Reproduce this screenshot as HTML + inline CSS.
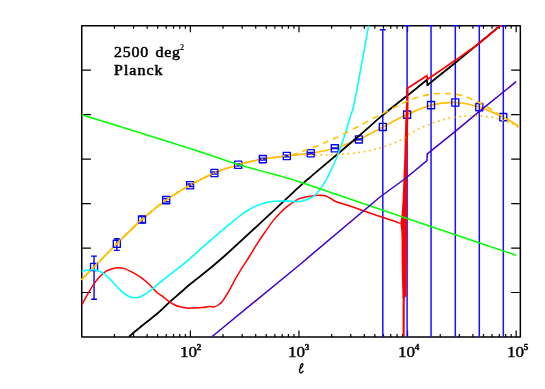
<!DOCTYPE html>
<html><head><meta charset="utf-8"><title>plot</title>
<style>
html,body{margin:0;padding:0;background:#fff;}
body{width:545px;height:389px;position:relative;overflow:hidden;font-family:"Liberation Serif",serif;color:#000;}
.t{position:absolute;white-space:nowrap;line-height:1;filter:grayscale(1);}
.lab{font-size:14.3px;letter-spacing:0px;-webkit-text-stroke:0.35px #000;transform-origin:0 0;transform:scaleX(1.2);}
.lab sup{font-size:7.6px;position:relative;top:-7.0px;left:-0.3px;vertical-align:baseline;font-weight:bold;letter-spacing:0}
.ttl{font-size:14px;letter-spacing:0.9px;-webkit-text-stroke:0.5px #000;transform-origin:0 0;transform:scaleX(1.14);}
.ttl sup{font-size:7.2px;position:relative;top:-6.9px;left:-0.8px;vertical-align:baseline;font-weight:bold;-webkit-text-stroke:0;letter-spacing:0}
</style></head><body>
<svg width="545" height="389" viewBox="0 0 545 389" style="position:absolute;left:0;top:0">
<defs><clipPath id="cp"><rect x="81.0" y="24.9" width="440.1" height="312.85"/></clipPath></defs>
<rect width="545" height="389" fill="#fff"/>
<rect x="81.75" y="25.65" width="438.6" height="311.35" fill="none" stroke="#000" stroke-width="1.5" stroke-linejoin="round"/>
<path d="M114.44,337.0 v-3.1 M114.44,25.65 v3.1 M133.57,337.0 v-3.1 M133.57,25.65 v3.1 M147.13,337.0 v-3.1 M147.13,25.65 v3.1 M157.66,337.0 v-3.1 M157.66,25.65 v3.1 M166.26,337.0 v-3.1 M166.26,25.65 v3.1 M173.53,337.0 v-3.1 M173.53,25.65 v3.1 M179.83,337.0 v-3.1 M179.83,25.65 v3.1 M185.38,337.0 v-3.1 M185.38,25.65 v3.1 M190.35,337.0 v-6.6 M190.35,25.65 v6.6 M223.04,337.0 v-3.1 M223.04,25.65 v3.1 M242.17,337.0 v-3.1 M242.17,25.65 v3.1 M255.73,337.0 v-3.1 M255.73,25.65 v3.1 M266.26,337.0 v-3.1 M266.26,25.65 v3.1 M274.86,337.0 v-3.1 M274.86,25.65 v3.1 M282.13,337.0 v-3.1 M282.13,25.65 v3.1 M288.43,337.0 v-3.1 M288.43,25.65 v3.1 M293.98,337.0 v-3.1 M293.98,25.65 v3.1 M298.95,337.0 v-6.6 M298.95,25.65 v6.6 M331.64,337.0 v-3.1 M331.64,25.65 v3.1 M350.77,337.0 v-3.1 M350.77,25.65 v3.1 M364.33,337.0 v-3.1 M364.33,25.65 v3.1 M374.86,337.0 v-3.1 M374.86,25.65 v3.1 M383.46,337.0 v-3.1 M383.46,25.65 v3.1 M390.73,337.0 v-3.1 M390.73,25.65 v3.1 M397.03,337.0 v-3.1 M397.03,25.65 v3.1 M402.58,337.0 v-3.1 M402.58,25.65 v3.1 M407.55,337.0 v-6.6 M407.55,25.65 v6.6 M440.24,337.0 v-3.1 M440.24,25.65 v3.1 M459.37,337.0 v-3.1 M459.37,25.65 v3.1 M472.93,337.0 v-3.1 M472.93,25.65 v3.1 M483.46,337.0 v-3.1 M483.46,25.65 v3.1 M492.06,337.0 v-3.1 M492.06,25.65 v3.1 M499.33,337.0 v-3.1 M499.33,25.65 v3.1 M505.63,337.0 v-3.1 M505.63,25.65 v3.1 M511.18,337.0 v-3.1 M511.18,25.65 v3.1 M516.15,337.0 v-6.6 M516.15,25.65 v6.6 M81.75,70.13 h9.2 M520.35,70.13 h-9.2 M81.75,114.61 h9.2 M520.35,114.61 h-9.2 M81.75,159.09 h9.2 M520.35,159.09 h-9.2 M81.75,203.56 h9.2 M520.35,203.56 h-9.2 M81.75,248.04 h9.2 M520.35,248.04 h-9.2 M81.75,292.52 h9.2 M520.35,292.52 h-9.2" stroke="#000" stroke-width="1.2" fill="none"/>
<g clip-path="url(#cp)" fill="none" stroke-linejoin="round" stroke-linecap="butt">
<path d="M81.70,279.60 C83.76,277.50 88.20,272.97 94.05,267.00 C99.90,261.03 108.81,251.72 116.80,243.80 C124.79,235.88 133.77,226.78 142.00,219.50 C150.23,212.22 158.18,205.82 166.20,200.10 C174.22,194.38 182.07,189.72 190.10,185.20 C198.13,180.68 206.38,176.42 214.40,173.00 C222.42,169.58 230.13,167.02 238.20,164.70 C246.27,162.38 254.70,160.55 262.80,159.10 C270.90,157.65 278.82,156.98 286.80,156.00 C294.78,155.02 302.70,154.48 310.70,153.20 C318.70,151.92 326.77,150.60 334.80,148.30 C342.83,146.00 350.90,142.97 358.90,139.40 C366.90,135.83 374.77,131.03 382.80,126.90 C390.83,122.77 399.06,118.23 407.10,114.60 C415.14,110.97 423.02,107.12 431.05,105.10 C439.08,103.08 447.26,102.17 455.30,102.50 C463.34,102.83 471.30,104.67 479.30,107.10 C487.30,109.53 497.83,114.58 503.30,117.10 C508.77,119.62 509.60,120.72 512.10,122.20 C514.60,123.68 517.27,125.37 518.30,126.00" stroke="#ffbf00" stroke-width="1.7"/>
<path d="M94.05,256.10 V299.20" stroke="#1a10ff" stroke-width="1.5"/>
<path d="M91.15,256.10 H96.95" stroke="#0000ff" stroke-width="1.35"/>
<path d="M91.15,299.20 H96.95" stroke="#0000ff" stroke-width="1.35"/>
<rect x="90.55" y="263.40" width="7.0" height="7.2" stroke="#0000ff" stroke-width="1.35"/>
<path d="M116.80,238.70 V250.30" stroke="#1a10ff" stroke-width="1.5"/>
<path d="M113.90,238.70 H119.70" stroke="#0000ff" stroke-width="1.35"/>
<path d="M113.90,250.30 H119.70" stroke="#0000ff" stroke-width="1.35"/>
<rect x="113.30" y="240.20" width="7.0" height="7.2" stroke="#0000ff" stroke-width="1.35"/>
<path d="M142.00,216.50 V222.70" stroke="#1a10ff" stroke-width="1.5"/>
<path d="M139.10,216.50 H144.90" stroke="#0000ff" stroke-width="1.35"/>
<path d="M139.10,222.70 H144.90" stroke="#0000ff" stroke-width="1.35"/>
<rect x="138.50" y="215.90" width="7.0" height="7.2" stroke="#0000ff" stroke-width="1.35"/>
<path d="M166.20,198.60 V201.70" stroke="#1a10ff" stroke-width="1.5"/>
<path d="M163.30,198.60 H169.10" stroke="#0000ff" stroke-width="1.35"/>
<path d="M163.30,201.70 H169.10" stroke="#0000ff" stroke-width="1.35"/>
<rect x="162.70" y="196.50" width="7.0" height="7.2" stroke="#0000ff" stroke-width="1.35"/>
<path d="M190.10,184.00 V186.50" stroke="#1a10ff" stroke-width="1.5"/>
<path d="M187.20,184.00 H193.00" stroke="#0000ff" stroke-width="1.35"/>
<path d="M187.20,186.50 H193.00" stroke="#0000ff" stroke-width="1.35"/>
<rect x="186.60" y="181.60" width="7.0" height="7.2" stroke="#0000ff" stroke-width="1.35"/>
<path d="M214.40,172.00 V174.10" stroke="#1a10ff" stroke-width="1.5"/>
<path d="M211.50,172.00 H217.30" stroke="#0000ff" stroke-width="1.35"/>
<path d="M211.50,174.10 H217.30" stroke="#0000ff" stroke-width="1.35"/>
<rect x="210.90" y="169.40" width="7.0" height="7.2" stroke="#0000ff" stroke-width="1.35"/>
<path d="M238.20,163.80 V165.70" stroke="#1a10ff" stroke-width="1.5"/>
<path d="M235.30,163.80 H241.10" stroke="#0000ff" stroke-width="1.35"/>
<path d="M235.30,165.70 H241.10" stroke="#0000ff" stroke-width="1.35"/>
<rect x="234.70" y="161.10" width="7.0" height="7.2" stroke="#0000ff" stroke-width="1.35"/>
<path d="M262.80,158.20 V160.00" stroke="#1a10ff" stroke-width="1.5"/>
<path d="M259.90,158.20 H265.70" stroke="#0000ff" stroke-width="1.35"/>
<path d="M259.90,160.00 H265.70" stroke="#0000ff" stroke-width="1.35"/>
<rect x="259.30" y="155.50" width="7.0" height="7.2" stroke="#0000ff" stroke-width="1.35"/>
<path d="M286.80,155.10 V156.90" stroke="#1a10ff" stroke-width="1.5"/>
<path d="M283.90,155.10 H289.70" stroke="#0000ff" stroke-width="1.35"/>
<path d="M283.90,156.90 H289.70" stroke="#0000ff" stroke-width="1.35"/>
<rect x="283.30" y="152.40" width="7.0" height="7.2" stroke="#0000ff" stroke-width="1.35"/>
<path d="M310.70,152.40 V154.00" stroke="#1a10ff" stroke-width="1.5"/>
<path d="M307.80,152.40 H313.60" stroke="#0000ff" stroke-width="1.35"/>
<path d="M307.80,154.00 H313.60" stroke="#0000ff" stroke-width="1.35"/>
<rect x="307.20" y="149.60" width="7.0" height="7.2" stroke="#0000ff" stroke-width="1.35"/>
<path d="M334.80,148.00 V148.60" stroke="#1a10ff" stroke-width="1.5"/>
<path d="M331.90,148.00 H337.70" stroke="#0000ff" stroke-width="1.35"/>
<path d="M331.90,148.60 H337.70" stroke="#0000ff" stroke-width="1.35"/>
<rect x="331.30" y="144.70" width="7.0" height="7.2" stroke="#0000ff" stroke-width="1.35"/>
<path d="M358.90,139.00 V139.90" stroke="#1a10ff" stroke-width="1.5"/>
<path d="M356.00,139.00 H361.80" stroke="#0000ff" stroke-width="1.35"/>
<path d="M356.00,139.90 H361.80" stroke="#0000ff" stroke-width="1.35"/>
<rect x="355.40" y="135.80" width="7.0" height="7.2" stroke="#0000ff" stroke-width="1.35"/>
<path d="M382.80,29.70 V337.00" stroke="#1a10ff" stroke-width="1.5"/>
<path d="M379.90,29.70 H385.70" stroke="#0000ff" stroke-width="1.35"/>
<rect x="379.30" y="123.30" width="7.0" height="7.2" stroke="#0000ff" stroke-width="1.35"/>
<path d="M407.10,25.65 V337.00" stroke="#1a10ff" stroke-width="1.5"/>
<path d="M404.20,25.65 H410.00" stroke="#0000ff" stroke-width="1.35"/>
<rect x="403.60" y="111.00" width="7.0" height="7.2" stroke="#0000ff" stroke-width="1.35"/>
<path d="M431.05,25.65 V337.00" stroke="#1a10ff" stroke-width="1.5"/>
<path d="M428.15,25.65 H433.95" stroke="#0000ff" stroke-width="1.35"/>
<rect x="427.55" y="101.50" width="7.0" height="7.2" stroke="#0000ff" stroke-width="1.35"/>
<path d="M455.30,25.65 V337.00" stroke="#1a10ff" stroke-width="1.5"/>
<path d="M452.40,25.65 H458.20" stroke="#0000ff" stroke-width="1.35"/>
<rect x="451.80" y="98.90" width="7.0" height="7.2" stroke="#0000ff" stroke-width="1.35"/>
<path d="M479.30,25.65 V337.00" stroke="#1a10ff" stroke-width="1.5"/>
<path d="M476.40,25.65 H482.20" stroke="#0000ff" stroke-width="1.35"/>
<rect x="475.80" y="103.50" width="7.0" height="7.2" stroke="#0000ff" stroke-width="1.35"/>
<path d="M503.30,25.65 V337.00" stroke="#1a10ff" stroke-width="1.5"/>
<path d="M500.40,25.65 H506.20" stroke="#0000ff" stroke-width="1.35"/>
<rect x="499.80" y="113.50" width="7.0" height="7.2" stroke="#0000ff" stroke-width="1.35"/>
<path d="M129.00,336.60 C129.52,336.17 130.18,335.60 132.10,334.00 C134.02,332.40 137.42,329.50 140.50,327.00 C143.58,324.50 147.23,321.75 150.60,319.00 C153.97,316.25 157.67,313.20 160.70,310.50 C163.73,307.80 165.43,305.83 168.80,302.80 C172.17,299.77 177.37,295.38 180.90,292.30 C184.43,289.22 182.73,290.35 190.00,284.30 C197.27,278.25 206.17,272.37 224.50,256.00 C242.83,239.63 286.00,198.98 300.00,186.10 C314.00,173.22 305.42,181.37 308.50,178.70 C311.58,176.03 310.02,177.30 318.50,170.10 C326.98,162.90 349.15,144.28 359.40,135.50 C369.65,126.72 373.23,123.10 380.00,117.40 C386.77,111.70 394.27,105.87 400.00,101.30 C405.73,96.73 409.92,93.58 414.40,90.00 C418.88,86.42 424.82,81.50 426.90,79.80" stroke="#000" stroke-width="1.8"/>
<path d="M426.90,79.80 L427.50,84.90" stroke="#000" stroke-width="1.8" stroke-linecap="square"/>
<path d="M427.50,84.90 C432.25,81.13 447.47,69.20 456.00,62.30 C464.53,55.40 471.33,49.62 478.70,43.50 C486.07,37.38 496.62,28.58 500.20,25.60" stroke="#000" stroke-width="1.8" stroke-linecap="square"/>
<path d="M81.70,305.00 C82.75,303.10 85.93,297.17 88.00,293.60 C90.07,290.03 92.07,286.48 94.10,283.60 C96.13,280.72 98.18,278.37 100.20,276.30 C102.22,274.23 104.18,272.47 106.20,271.20 C108.22,269.93 110.28,269.28 112.30,268.70 C114.32,268.12 116.28,267.72 118.30,267.70 C120.32,267.68 122.03,267.82 124.40,268.60 C126.77,269.38 129.82,270.97 132.50,272.40 C135.18,273.83 137.82,275.30 140.50,277.20 C143.18,279.10 146.57,282.02 148.60,283.80 C150.63,285.58 151.35,286.48 152.70,287.90 C154.05,289.32 155.03,290.88 156.70,292.30 C158.37,293.72 160.68,294.88 162.70,296.40 C164.72,297.92 166.77,299.97 168.80,301.40 C170.83,302.83 172.88,304.05 174.90,305.00 C176.92,305.95 178.88,306.58 180.90,307.10 C182.92,307.62 185.48,307.93 187.00,308.10 C188.52,308.27 187.48,308.20 190.00,308.10 C192.52,308.00 198.90,307.77 202.10,307.50 C205.30,307.23 207.18,306.60 209.20,306.50 C211.22,306.40 212.68,307.15 214.20,306.90 C215.72,306.65 216.95,305.92 218.30,305.00 C219.65,304.08 220.97,303.00 222.30,301.40 C223.63,299.80 224.95,297.58 226.30,295.40 C227.65,293.22 228.72,291.33 230.40,288.30 C232.08,285.27 234.38,280.73 236.40,277.20 C238.42,273.67 240.28,270.63 242.50,267.10 C244.72,263.57 247.35,259.75 249.70,256.00 C252.05,252.25 254.10,248.52 256.60,244.60 C259.10,240.68 262.02,236.37 264.70,232.50 C267.38,228.63 270.02,224.77 272.70,221.40 C275.38,218.03 278.10,215.00 280.80,212.30 C283.50,209.60 286.55,207.05 288.90,205.20 C291.25,203.35 293.05,202.33 294.90,201.20 C296.75,200.07 297.47,199.23 300.00,198.40 C302.53,197.57 307.07,196.73 310.10,196.20 C313.13,195.67 315.68,195.27 318.20,195.20 C320.72,195.13 323.18,195.30 325.20,195.80 C327.22,196.30 328.45,197.20 330.30,198.20 C332.15,199.20 332.93,200.45 336.30,201.80 C339.67,203.15 344.78,204.38 350.50,206.30 C356.22,208.22 363.88,211.02 370.60,213.30 C377.32,215.58 385.85,218.32 390.80,220.00 C395.75,221.68 398.72,222.83 400.30,223.40" stroke="#ff0000" stroke-width="1.5"/>
<path d="M406.70,87.50 L408.30,87.50 L408.20,120.00 L407.30,160.00 L407.10,200.00 L407.00,240.00 L406.70,280.00 L406.50,296.00 L404.80,298.00 L404.70,336.00 L402.60,336.00 L402.60,300.00 L402.00,280.00 L401.60,262.00 L401.60,240.00 L401.20,230.00 L400.30,223.40 L401.60,215.00 L402.60,200.00 L404.20,160.00 L405.30,120.00 Z" fill="#ff0000" stroke="none"/>
<path d="M407.50,120.00 L407.50,88.30 L426.90,75.70 L427.50,79.30 " stroke="#ff0000" stroke-width="1.65" stroke-linejoin="miter"/>
<path d="M427.50,79.30 C432.25,76.05 447.43,65.77 456.00,59.80 C464.57,53.83 471.42,49.25 478.90,43.50 C486.38,37.75 497.23,28.33 500.90,25.30" stroke="#ff0000" stroke-width="1.65" stroke-linecap="square"/>
<path d="M81.70,271.50 C82.58,271.30 85.12,270.60 87.00,270.30 C88.88,270.00 91.17,269.62 93.00,269.70 C94.83,269.78 96.13,270.12 98.00,270.80 C99.87,271.48 101.82,272.03 104.20,273.80 C106.58,275.57 109.60,278.63 112.30,281.40 C115.00,284.17 117.72,287.93 120.40,290.40 C123.08,292.87 126.05,294.97 128.40,296.20 C130.75,297.43 132.48,297.70 134.50,297.80 C136.52,297.90 138.15,297.78 140.50,296.80 C142.85,295.82 145.23,294.38 148.60,291.90 C151.97,289.42 157.00,284.90 160.70,281.90 C164.40,278.90 167.43,276.53 170.80,273.90 C174.17,271.27 177.70,268.65 180.90,266.10 C184.10,263.55 185.12,262.85 190.00,258.60 C194.88,254.35 203.47,246.47 210.20,240.60 C216.93,234.73 225.35,227.62 230.40,223.40 C235.45,219.18 237.15,217.75 240.50,215.30 C243.85,212.85 247.15,210.55 250.50,208.70 C253.85,206.85 257.23,205.35 260.60,204.20 C263.97,203.05 267.33,202.33 270.70,201.80 C274.07,201.27 277.43,201.10 280.80,201.00 C284.17,200.90 287.70,201.12 290.90,201.20 C294.10,201.28 296.80,202.00 300.00,201.50 C303.20,201.00 307.42,199.43 310.10,198.20 C312.78,196.97 314.42,195.62 316.10,194.10 C317.78,192.58 318.85,190.95 320.20,189.10 C321.55,187.25 323.03,184.85 324.20,183.00 C325.37,181.15 325.18,182.08 327.20,178.00 C329.22,173.92 333.43,165.45 336.30,158.50 C339.17,151.55 342.03,143.37 344.40,136.30 C346.77,129.23 348.75,122.15 350.50,116.10 C352.25,110.05 351.88,115.08 354.90,100.00 C357.92,84.92 366.32,38.00 368.60,25.60" stroke="#00ffff" stroke-width="1.55"/>
<path d="M81.70,114.70 C99.75,120.32 163.88,140.08 190.00,148.40 C216.12,156.72 222.25,159.68 238.40,164.60 C254.55,169.52 276.63,175.00 286.90,177.90 C297.17,180.80 284.48,176.77 300.00,182.00 C315.52,187.23 361.67,203.07 380.00,209.30 C398.33,215.53 400.67,216.23 410.00,219.40 C419.33,222.57 418.30,222.32 436.00,228.30 C453.70,234.28 502.83,250.80 516.20,255.30" stroke="#00ff00" stroke-width="1.55"/>
<path d="M212.00,336.60 L215.20,334.00 L300.00,264.50 L310.10,255.90 L380.00,197.00 L406.00,178.00 L427.00,160.70 L427.30,153.90 L436.00,146.90 L455.00,131.60 L476.30,113.80 L516.20,81.60" stroke="#4000c8" stroke-width="1.5" stroke-linejoin="miter"/>
<path d="M81.70,279.60 C83.76,277.50 88.20,272.97 94.05,267.00 C99.90,261.03 108.81,251.72 116.80,243.80 C124.79,235.88 133.77,226.78 142.00,219.50 C150.23,212.22 158.18,205.82 166.20,200.10 C174.22,194.38 182.07,189.72 190.10,185.20 C198.13,180.68 210.35,175.03 214.40,173.00" stroke="#ffbf00" stroke-width="1.6" stroke-dasharray="6.1 5.0" stroke-dashoffset="-3.5"/>
<path d="M290.00,155.30 C291.00,155.03 294.22,154.25 296.00,153.70 C297.78,153.15 299.03,152.62 300.70,152.00 C302.37,151.38 304.08,150.73 306.00,150.00 C307.92,149.27 309.83,148.40 312.20,147.60 C314.57,146.80 317.83,146.15 320.20,145.20 C322.57,144.25 323.23,143.38 326.40,141.90 C329.57,140.42 333.52,139.08 339.20,136.30 C344.88,133.52 353.58,128.83 360.50,125.20 C367.42,121.57 373.97,117.98 380.70,114.50 C387.43,111.02 395.30,106.98 400.90,104.30 C406.50,101.62 409.28,100.07 414.30,98.40 C419.32,96.73 425.83,95.12 431.00,94.30 C436.17,93.48 440.53,93.38 445.30,93.50 C450.07,93.62 455.22,94.07 459.60,95.00 C463.98,95.93 467.22,97.22 471.60,99.10 C475.98,100.98 481.93,104.17 485.90,106.30 C489.87,108.43 492.50,110.10 495.40,111.90 C498.30,113.70 500.52,115.37 503.30,117.10 C506.08,118.83 509.60,120.80 512.10,122.30 C514.60,123.80 517.27,125.47 518.30,126.10" stroke="#ffbf00" stroke-width="1.6" stroke-dasharray="6.1 5.0" stroke-dashoffset="-1.7"/>
<path d="M81.70,279.30 C83.76,277.20 88.20,272.67 94.05,266.70 C99.90,260.73 108.81,251.42 116.80,243.50 C124.79,235.58 133.77,226.48 142.00,219.20 C150.23,211.92 158.18,205.52 166.20,199.80 C174.22,194.08 182.07,189.42 190.10,184.90 C198.13,180.38 206.38,176.12 214.40,172.70 C222.42,169.28 230.13,166.72 238.20,164.40 C246.27,162.08 254.70,160.25 262.80,158.80 C270.90,157.35 280.60,156.40 286.80,155.70 C293.00,155.00 295.55,154.73 300.00,154.60 C304.45,154.47 310.13,154.83 313.50,154.90 C316.87,154.97 315.72,155.08 320.20,155.00 C324.68,154.92 333.68,154.85 340.40,154.40 C347.12,153.95 354.77,153.13 360.50,152.30 C366.23,151.47 371.43,150.15 374.80,149.40 C378.17,148.65 378.17,148.63 380.70,147.80 C383.23,146.97 386.63,145.70 390.00,144.40 C393.37,143.10 397.25,141.97 400.90,140.00 C404.55,138.03 408.07,134.85 411.90,132.60 C415.73,130.35 419.92,128.27 423.90,126.50 C427.88,124.73 431.83,123.32 435.80,122.00 C439.77,120.68 443.73,119.48 447.70,118.60 C451.67,117.72 455.62,117.17 459.60,116.70 C463.58,116.23 467.62,115.88 471.60,115.80 C475.58,115.72 479.53,115.82 483.50,116.20 C487.47,116.58 491.43,117.13 495.40,118.10 C499.37,119.07 504.37,121.02 507.30,122.00 C510.23,122.98 510.90,122.90 513.00,124.00 C515.10,125.10 518.75,127.83 519.90,128.60" stroke="#ffbf00" stroke-width="1.85" stroke-dasharray="0.1 5.3" stroke-linecap="round"/>
</g>
<path d="M299.4,369.2 C301,368.1 303.2,365.6 302.8,364.2 C302.4,363 301.2,363.6 300.6,365.8 C300,368 299.5,371.2 299.9,372.4 C300.3,373.6 301.8,373.2 303.1,371.2" fill="none" stroke="#000" stroke-width="1.3" stroke-linecap="round"/>
</svg>
<div class="t ttl" style="left:114.2px;top:45.8px;letter-spacing:0.7px;word-spacing:1.3px">2500 deg<sup>2</sup></div>
<div class="t ttl" style="left:114.2px;top:63.9px">Planck</div>
<div class="t lab" style="left:179.8px;top:345.0px">10<sup>2</sup></div>
<div class="t lab" style="left:288.4px;top:345.0px">10<sup>3</sup></div>
<div class="t lab" style="left:397.7px;top:345.0px">10<sup>4</sup></div>
<div class="t lab" style="left:506.7px;top:345.0px">10<sup>5</sup></div>
</body></html>
